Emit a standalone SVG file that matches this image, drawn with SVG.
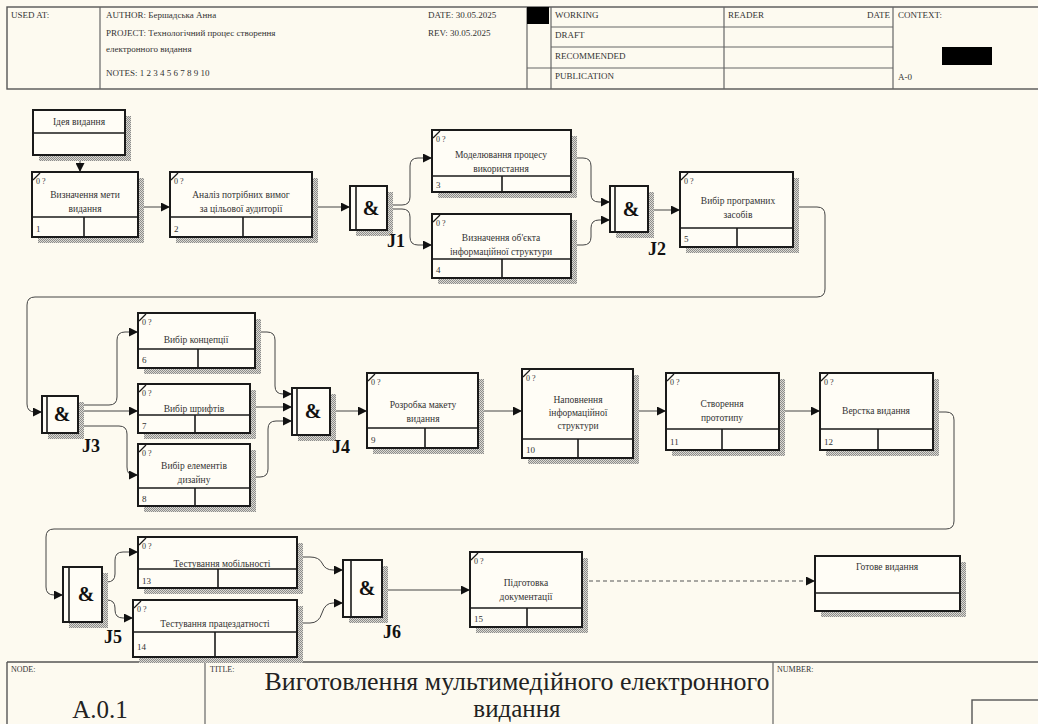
<svg xmlns="http://www.w3.org/2000/svg" width="1038" height="724" viewBox="0 0 1038 724">
<defs>
<pattern id="st" width="2" height="2" patternUnits="userSpaceOnUse"><rect width="2" height="2" fill="#dcdad2"/><rect width="1" height="1" fill="#8c8c8c"/><rect x="1" y="1" width="1" height="1" fill="#8c8c8c"/></pattern>
<marker id="ar" viewBox="0 0 10 10" refX="10" refY="5" markerWidth="9" markerHeight="9" markerUnits="userSpaceOnUse" orient="auto"><path d="M0 0 L10 5 L0 10 Z" fill="#111"/></marker>
<style>
.bg{fill:#fdfaf0}
.sh{fill:url(#st)}
.box{fill:#fffdf6;stroke:#1a1a1a;stroke-width:2}
.ln{stroke:#1a1a1a;stroke-width:1.6}
.fr{fill:none;stroke:#555;stroke-width:1.4}
.hl{stroke:#666;stroke-width:1.2}
.tick{stroke:#1a1a1a;stroke-width:1.2}
.tag{font-family:"Liberation Serif",serif;font-size:8px;fill:#333}
.nt{font-family:"Liberation Serif",serif;font-size:9.5px;fill:#333;text-anchor:middle}
.num{font-family:"Liberation Serif",serif;font-size:9px;fill:#333}
.ht{font-family:"Liberation Serif",serif;font-size:9px;fill:#333}
.amp{font-family:"Liberation Serif",serif;font-size:20px;font-weight:bold;fill:#111;text-anchor:middle}
.jl{font-family:"Liberation Serif",serif;font-size:18px;font-weight:bold;fill:#111}
.conn{fill:none;stroke:#444;stroke-width:1}
.dash{fill:none;stroke:#555;stroke-width:1.2;stroke-dasharray:4 3}
.big{font-family:"Liberation Serif",serif;font-size:25px;fill:#222;text-anchor:middle}
</style>
</defs>
<rect class="bg" x="0" y="0" width="1038" height="724"/>

<g id="header">
<rect class="fr" x="7" y="7" width="1040" height="82"/>
<line class="hl" x1="100" y1="7" x2="100" y2="89"/>
<line class="hl" x1="527" y1="7" x2="527" y2="89"/>
<line class="hl" x1="551" y1="7" x2="551" y2="89"/>
<line class="hl" x1="724" y1="7" x2="724" y2="89"/>
<line class="hl" x1="893" y1="7" x2="893" y2="89"/>
<line class="hl" x1="551" y1="27" x2="893" y2="27"/>
<line class="hl" x1="551" y1="47" x2="893" y2="47"/>
<line class="hl" x1="527" y1="68" x2="893" y2="68"/>
<rect x="527" y="7" width="22" height="17" fill="#000"/>
<rect x="942" y="47" width="50" height="18" fill="#000"/>
<text class="ht" x="11" y="18">USED AT:</text>
<text class="ht" x="106" y="18">AUTHOR:  Бершадська Анна</text>
<text class="ht" x="106" y="36">PROJECT:  Технологічний процес створення</text>
<text class="ht" x="106" y="52">електронного видання</text>
<text class="ht" x="106" y="76">NOTES:  1  2  3  4  5  6  7  8  9  10</text>
<text class="ht" x="428" y="18">DATE:  30.05.2025</text>
<text class="ht" x="428" y="36">REV:    30.05.2025</text>
<text class="ht" x="555" y="18">WORKING</text>
<text class="ht" x="555" y="38">DRAFT</text>
<text class="ht" x="555" y="59">RECOMMENDED</text>
<text class="ht" x="555" y="79">PUBLICATION</text>
<text class="ht" x="728" y="18">READER</text>
<text class="ht" x="890" y="18" text-anchor="end">DATE</text>
<text class="ht" x="898" y="18">CONTEXT:</text>
<text class="ht" x="898" y="80">A-0</text>
</g>

<g id="footer">
<line class="fr" x1="7" y1="662" x2="1038" y2="662"/>
<line class="fr" x1="7" y1="662" x2="7" y2="724"/>
<line class="hl" x1="205" y1="662" x2="205" y2="724"/>
<line class="hl" x1="773" y1="662" x2="773" y2="724"/>
<rect class="fr" x="972" y="700" width="70" height="30"/>
<text class="tag" x="11" y="672">NODE:</text>
<text class="tag" x="210" y="672">TITLE:</text>
<text class="tag" x="777" y="672">NUMBER:</text>
<text class="big" x="100" y="718" font-size="22">A.0.1</text>
<text class="big" x="517" y="690" textLength="505" lengthAdjust="spacingAndGlyphs">Виготовлення мультимедійного електронного</text>
<text class="big" x="517" y="717">видання</text>
</g>

<g id="connectors">
<path class="conn" d="M80 155 V172" marker-end="url(#ar)"/>
<path class="conn" d="M138 207 H170" marker-end="url(#ar)"/>
<path class="conn" d="M312 207 H350" marker-end="url(#ar)"/>
<path class="conn" d="M387 205 H402 Q410 205 410 197 V166 Q410 158 418 158 H432" marker-end="url(#ar)"/>
<path class="conn" d="M387 209 H402 Q410 209 410 217 V237 Q410 245 418 245 H432" marker-end="url(#ar)"/>
<path class="conn" d="M571 158 H583 Q591 158 591 166 V194 Q591 202 599 202 H610" marker-end="url(#ar)"/>
<path class="conn" d="M571 245 H583 Q591 245 591 237 V228 Q591 220 599 220 H610" marker-end="url(#ar)"/>
<path class="conn" d="M648 210 H680" marker-end="url(#ar)"/>
<path class="conn" d="M793 207 H817 Q825 207 825 215 V289 Q825 297 817 297 H35 Q27 297 27 305 V404 Q27 412 35 412 H42" marker-end="url(#ar)"/>
<path class="conn" d="M78 405 H109 Q117 405 117 397 V340 Q117 332 125 332 H138" marker-end="url(#ar)"/>
<path class="conn" d="M78 411 H138" marker-end="url(#ar)"/>
<path class="conn" d="M78 426 H119 Q127 426 127 434 V467 Q127 475 133 475 H138" marker-end="url(#ar)"/>
<path class="conn" d="M255 332 H267 Q275 332 275 340 V386 Q275 394 283 394 H292" marker-end="url(#ar)"/>
<path class="conn" d="M250 407 H292" marker-end="url(#ar)"/>
<path class="conn" d="M250 477 H260 Q268 477 268 469 V429 Q268 421 276 421 H292" marker-end="url(#ar)"/>
<path class="conn" d="M330 411 H367" marker-end="url(#ar)"/>
<path class="conn" d="M478 411 H522" marker-end="url(#ar)"/>
<path class="conn" d="M633 411 H666" marker-end="url(#ar)"/>
<path class="conn" d="M779 411 H820" marker-end="url(#ar)"/>
<path class="conn" d="M933 412 H946 Q954 412 954 420 V521 Q954 529 946 529 H54 Q46 529 46 537 V587 Q46 595 54 595 H63" marker-end="url(#ar)"/>
<path class="conn" d="M102 582 H107 Q115 582 115 574 V560 Q115 552 123 552 H138" marker-end="url(#ar)"/>
<path class="conn" d="M102 600 H107 Q115 600 115 608 V610 Q115 618 123 618 H133" marker-end="url(#ar)"/>
<path class="conn" d="M297 557 H310 Q319 557 322 563 Q325 570 333 570 H343" marker-end="url(#ar)"/>
<path class="conn" d="M297 623 H310 Q319 623 322 613 Q325 603 333 603 H343" marker-end="url(#ar)"/>
<path class="conn" d="M382 590 H470" marker-end="url(#ar)"/>
<path class="dash" d="M582 581 H815" marker-end="url(#ar)"/>
</g>

<g id="ref1">
<rect class="sh" x="39" y="116" width="92" height="45"/>
<rect class="box" x="33" y="110" width="92" height="45"/>
<line class="ln" x1="33" y1="133" x2="125" y2="133"/>
<text class="nt" x="79" y="125">Ідея видання</text>
</g>

<g id="n1">
<rect class="sh" x="38" y="178" width="106" height="65"/>
<rect class="box" x="32" y="172" width="106" height="65"/>
<line class="ln" x1="32" y1="217" x2="138" y2="217"/>
<line class="ln" x1="84" y1="217" x2="84" y2="237"/>
<path class="tick" d="M33 180 L40 173"/>
<text class="tag" x="36" y="184">0 ?</text>
<text class="nt" x="85" y="198">Визначення мети</text>
<text class="nt" x="85" y="212">видання</text>
<text class="num" x="36" y="232">1</text>
</g>

<g id="n2">
<rect class="sh" x="176" y="178" width="142" height="65"/>
<rect class="box" x="170" y="172" width="142" height="65"/>
<line class="ln" x1="170" y1="217" x2="312" y2="217"/>
<line class="ln" x1="243" y1="217" x2="243" y2="237"/>
<path class="tick" d="M171 180 L178 173"/>
<text class="tag" x="174" y="184">0 ?</text>
<text class="nt" x="241" y="198">Аналіз потрібних вимог</text>
<text class="nt" x="241" y="212">за цільової аудиторії</text>
<text class="num" x="174" y="232">2</text>
</g>

<g id="j1">
<rect class="sh" x="356" y="192" width="37" height="44"/>
<rect class="box" x="350" y="186" width="37" height="44"/>
<line class="ln" x1="356" y1="186" x2="356" y2="230"/>
<text class="amp" x="371" y="215">&amp;</text>
<text class="jl" x="387" y="247">J1</text>
</g>

<g id="n3">
<rect class="sh" x="438" y="136" width="139" height="62"/>
<rect class="box" x="432" y="130" width="139" height="62"/>
<line class="ln" x1="432" y1="176" x2="571" y2="176"/>
<line class="ln" x1="502" y1="176" x2="502" y2="192"/>
<path class="tick" d="M433 138 L440 131"/>
<text class="tag" x="436" y="142">0 ?</text>
<text class="nt" x="501" y="158">Моделювання процесу</text>
<text class="nt" x="501" y="172">використання</text>
<text class="num" x="436" y="188">3</text>
</g>

<g id="n4">
<rect class="sh" x="438" y="220" width="139" height="64"/>
<rect class="box" x="432" y="214" width="139" height="64"/>
<line class="ln" x1="432" y1="259" x2="571" y2="259"/>
<line class="ln" x1="502" y1="259" x2="502" y2="278"/>
<path class="tick" d="M433 222 L440 215"/>
<text class="tag" x="436" y="226">0 ?</text>
<text class="nt" x="501" y="241">Визначення об'єкта</text>
<text class="nt" x="501" y="255">інформаційної структури</text>
<text class="num" x="436" y="273">4</text>
</g>

<g id="j2">
<rect class="sh" x="616" y="192" width="38" height="46"/>
<rect class="box" x="610" y="186" width="38" height="46"/>
<line class="ln" x1="615" y1="186" x2="615" y2="232"/>
<text class="amp" x="631" y="216">&amp;</text>
<text class="jl" x="648" y="255">J2</text>
</g>

<g id="n5">
<rect class="sh" x="686" y="178" width="113" height="75"/>
<rect class="box" x="680" y="172" width="113" height="75"/>
<line class="ln" x1="680" y1="228" x2="793" y2="228"/>
<line class="ln" x1="737" y1="228" x2="737" y2="247"/>
<path class="tick" d="M681 180 L688 173"/>
<text class="tag" x="684" y="184">0 ?</text>
<text class="nt" x="738" y="204">Вибір програмних</text>
<text class="nt" x="738" y="218">засобів</text>
<text class="num" x="684" y="242">5</text>
</g>

<g id="j3">
<rect class="sh" x="48" y="402" width="36" height="37"/>
<rect class="box" x="42" y="396" width="36" height="37"/>
<line class="ln" x1="47" y1="396" x2="47" y2="433"/>
<text class="amp" x="62" y="421">&amp;</text>
<text class="jl" x="82" y="452">J3</text>
</g>

<g id="n6">
<rect class="sh" x="144" y="319" width="117" height="55"/>
<rect class="box" x="138" y="313" width="117" height="55"/>
<line class="ln" x1="138" y1="349" x2="255" y2="349"/>
<line class="ln" x1="198" y1="349" x2="198" y2="368"/>
<path class="tick" d="M139 321 L146 314"/>
<text class="tag" x="142" y="325">0 ?</text>
<text class="nt" x="196" y="343">Вибір концепції</text>
<text class="num" x="142" y="363">6</text>
</g>

<g id="n7">
<rect class="sh" x="144" y="390" width="112" height="49"/>
<rect class="box" x="138" y="384" width="112" height="49"/>
<line class="ln" x1="138" y1="415" x2="250" y2="415"/>
<line class="ln" x1="195" y1="415" x2="195" y2="433"/>
<path class="tick" d="M139 392 L146 385"/>
<text class="tag" x="142" y="396">0 ?</text>
<text class="nt" x="194" y="412">Вибір шрифтів</text>
<text class="num" x="142" y="429">7</text>
</g>

<g id="n8">
<rect class="sh" x="144" y="450" width="112" height="62"/>
<rect class="box" x="138" y="444" width="112" height="62"/>
<line class="ln" x1="138" y1="488" x2="250" y2="488"/>
<line class="ln" x1="195" y1="488" x2="195" y2="506"/>
<path class="tick" d="M139 452 L146 445"/>
<text class="tag" x="142" y="456">0 ?</text>
<text class="nt" x="194" y="469">Вибір елементів</text>
<text class="nt" x="194" y="483">дизайну</text>
<text class="num" x="142" y="502">8</text>
</g>

<g id="j4">
<rect class="sh" x="298" y="394" width="38" height="47"/>
<rect class="box" x="292" y="388" width="38" height="47"/>
<line class="ln" x1="297" y1="388" x2="297" y2="435"/>
<text class="amp" x="313" y="418">&amp;</text>
<text class="jl" x="332" y="453">J4</text>
</g>

<g id="n9">
<rect class="sh" x="373" y="379" width="111" height="75"/>
<rect class="box" x="367" y="373" width="111" height="75"/>
<line class="ln" x1="367" y1="428" x2="478" y2="428"/>
<line class="ln" x1="425" y1="428" x2="425" y2="448"/>
<path class="tick" d="M368 381 L375 374"/>
<text class="tag" x="371" y="385">0 ?</text>
<text class="nt" x="423" y="408">Розробка макету</text>
<text class="nt" x="423" y="422">видання</text>
<text class="num" x="371" y="443">9</text>
</g>

<g id="n10">
<rect class="sh" x="528" y="375" width="111" height="89"/>
<rect class="box" x="522" y="369" width="111" height="89"/>
<line class="ln" x1="522" y1="439" x2="633" y2="439"/>
<line class="ln" x1="578" y1="439" x2="578" y2="458"/>
<path class="tick" d="M523 377 L530 370"/>
<text class="tag" x="526" y="381">0 ?</text>
<text class="nt" x="578" y="403">Наповнення</text>
<text class="nt" x="578" y="416">інформаційної</text>
<text class="nt" x="578" y="429">структури</text>
<text class="num" x="526" y="453">10</text>
</g>

<g id="n11">
<rect class="sh" x="672" y="379" width="113" height="77"/>
<rect class="box" x="666" y="373" width="113" height="77"/>
<line class="ln" x1="666" y1="429" x2="779" y2="429"/>
<line class="ln" x1="722" y1="429" x2="722" y2="450"/>
<path class="tick" d="M667 381 L674 374"/>
<text class="tag" x="670" y="385">0 ?</text>
<text class="nt" x="722" y="407">Створення</text>
<text class="nt" x="722" y="421">прототипу</text>
<text class="num" x="670" y="445">11</text>
</g>

<g id="n12">
<rect class="sh" x="826" y="379" width="113" height="77"/>
<rect class="box" x="820" y="373" width="113" height="77"/>
<line class="ln" x1="820" y1="429" x2="933" y2="429"/>
<line class="ln" x1="878" y1="429" x2="878" y2="450"/>
<path class="tick" d="M821 381 L828 374"/>
<text class="tag" x="824" y="385">0 ?</text>
<text class="nt" x="876" y="414">Верстка видання</text>
<text class="num" x="824" y="445">12</text>
</g>

<g id="j5">
<rect class="sh" x="69" y="573" width="39" height="55"/>
<rect class="box" x="63" y="567" width="39" height="55"/>
<line class="ln" x1="69" y1="567" x2="69" y2="622"/>
<text class="amp" x="86" y="601">&amp;</text>
<text class="jl" x="104" y="643">J5</text>
</g>

<g id="n13">
<rect class="sh" x="144" y="543" width="159" height="51"/>
<rect class="box" x="138" y="537" width="159" height="51"/>
<line class="ln" x1="138" y1="569" x2="297" y2="569"/>
<line class="ln" x1="218" y1="569" x2="218" y2="588"/>
<path class="tick" d="M139 545 L146 538"/>
<text class="tag" x="142" y="549">0 ?</text>
<text class="nt" x="222" y="567">Тестування мобільності</text>
<text class="num" x="142" y="584">13</text>
</g>

<g id="n14">
<rect class="sh" x="139" y="606" width="164" height="57"/>
<rect class="box" x="133" y="600" width="164" height="57"/>
<line class="ln" x1="133" y1="632" x2="297" y2="632"/>
<line class="ln" x1="215" y1="632" x2="215" y2="657"/>
<path class="tick" d="M134 608 L141 601"/>
<text class="tag" x="137" y="612">0 ?</text>
<text class="nt" x="215" y="627">Тестування працездатності</text>
<text class="num" x="137" y="650">14</text>
</g>

<g id="j6">
<rect class="sh" x="349" y="566" width="39" height="57"/>
<rect class="box" x="343" y="560" width="39" height="57"/>
<line class="ln" x1="351" y1="560" x2="351" y2="617"/>
<text class="amp" x="367" y="595">&amp;</text>
<text class="jl" x="383" y="638">J6</text>
</g>

<g id="n15">
<rect class="sh" x="476" y="558" width="112" height="75"/>
<rect class="box" x="470" y="552" width="112" height="75"/>
<line class="ln" x1="470" y1="608" x2="582" y2="608"/>
<line class="ln" x1="527" y1="608" x2="527" y2="627"/>
<path class="tick" d="M471 560 L478 553"/>
<text class="tag" x="474" y="564">0 ?</text>
<text class="nt" x="526" y="586">Підготовка</text>
<text class="nt" x="526" y="600">документації</text>
<text class="num" x="474" y="622">15</text>
</g>

<g id="ref2">
<rect class="sh" x="821" y="562" width="145" height="55"/>
<rect class="box" x="815" y="556" width="145" height="55"/>
<line class="ln" x1="815" y1="593" x2="960" y2="593"/>
<text class="nt" x="887" y="570">Готове видання</text>
</g>
</svg>
